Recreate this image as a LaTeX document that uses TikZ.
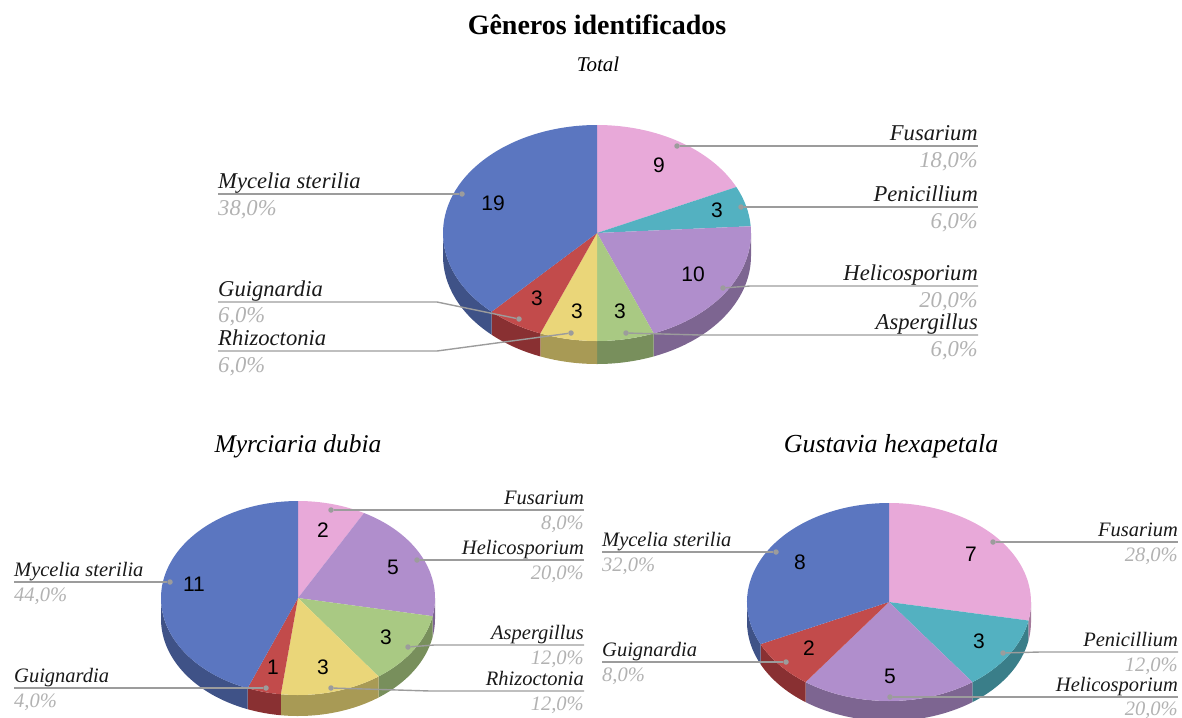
\documentclass[tikz,border=0pt]{standalone}
\usepackage{fontspec}
\setmainfont{Liberation Serif}
\newfontfamily\numfont{Liberation Sans}

\definecolor{cblue}{HTML}{5B76C0}
\definecolor{cblueS}{HTML}{3F5287}
\definecolor{cred}{HTML}{C24B4B}
\definecolor{credS}{HTML}{893032}
\definecolor{cyel}{HTML}{EAD679}
\definecolor{cyelS}{HTML}{A89A55}
\definecolor{cgrn}{HTML}{A9C983}
\definecolor{cgrnS}{HTML}{788F5C}
\definecolor{cpur}{HTML}{B08ECC}
\definecolor{cpurS}{HTML}{7D6591}
\definecolor{cteal}{HTML}{53B1C1}
\definecolor{ctealS}{HTML}{3A7E89}
\definecolor{cpink}{HTML}{E8A9D9}
\definecolor{cpinkS}{HTML}{A57B9C}
\definecolor{lgray}{HTML}{9C9C9C}
\definecolor{pgray}{HTML}{B2B2B2}

% one slice of a tilted pie: cx, cy, rx, ry, depth, from, to, colour
\newcommand{\pieslice}[8]{%
  \pgfmathsetmacro{\sa}{max(#6,0)}%
  \pgfmathsetmacro{\sb}{min(#7,180)}%
  \ifdim\sa pt<\sb pt
    \fill[#8S] (#1,#2) ++(\sa:#3 and #4) arc[start angle=\sa, end angle=\sb, x radius=#3, y radius=#4]
      -- ++(0,#5) arc[start angle=\sb, end angle=\sa, x radius=#3, y radius=#4] -- cycle;
  \fi
  \fill[#8] (#1,#2) -- ++(#6:#3 and #4) arc[start angle=#6, end angle=#7, x radius=#3, y radius=#4] -- cycle;
}

\begin{document}
\begin{tikzpicture}[x=1pt, y=1pt, yscale=-1,
    genus/.style={font=\fontsize{22.6}{24}\selectfont\itshape, inner sep=0pt, text=black!90},
    share/.style={genus, text=pgray},
    sgenus/.style={genus, font=\fontsize{20.5}{22}\selectfont\itshape},
    sshare/.style={sgenus, text=pgray},
    count/.style={font=\numfont\fontsize{21}{22}\selectfont, inner sep=0pt},
    leader/.style={draw=lgray, line width=1.4pt},
    ldot/.style={circle, fill=lgray, inner sep=0pt, minimum size=5.5pt}]
  \useasboundingbox (0,0) rectangle (1182,717);

  % titles
  \node[font=\fontsize{28}{30}\selectfont\bfseries, anchor=base] (ttl) at (597,35) {Gêneros identificados};
  \node[font=\fontsize{21}{22}\selectfont\itshape, anchor=base] (sub) at (598,71) {Total};
  \node[font=\fontsize{25.5}{28}\selectfont\itshape, anchor=base] (sub2) at (298,452) {Myrciaria dubia};
  \node[font=\fontsize{26}{28}\selectfont\itshape, anchor=base] (sub3) at (891,452) {Gustavia hexapetala};

  % total
  \pieslice{597}{233}{154}{108}{23}{-90}{-25.2}{cpink}
  \pieslice{597}{233}{154}{108}{23}{-25.2}{-3.6}{cteal}
  \pieslice{597}{233}{154}{108}{23}{-3.6}{68.4}{cpur}
  \pieslice{597}{233}{154}{108}{23}{68.4}{90}{cgrn}
  \pieslice{597}{233}{154}{108}{23}{90}{111.6}{cyel}
  \pieslice{597}{233}{154}{108}{23}{111.6}{133.2}{cred}
  \pieslice{597}{233}{154}{108}{23}{133.2}{270}{cblue}

  \node[count] (n1ms) at (493,203) {19};
  \node[count] (n1fu) at (659,165) {9};
  \node[count] (n1pe) at (717,210) {3};
  \node[count] (n1he) at (693,274) {10};
  \node[count] (n1as) at (620,311) {3};
  \node[count] (n1rh) at (577,311) {3};
  \node[count] (n1gu) at (537,298) {3};

  \node[genus, anchor=base west] (ms1) at (218,188) {Mycelia sterilia};
  \node[share, anchor=base west] (ms1p) at (218,215) {38,0\%};
  \node[ldot] (ms1d) at (462,194) {};
  \draw[leader] (ms1d) -- (ms1.west |- ms1d);

  \node[genus, anchor=base west] (gu1) at (218,296) {Guignardia};
  \node[share, anchor=base west] (gu1p) at (218,322) {6,0\%};
  \node[ldot] (gu1d) at (519,319) {};
  \draw[leader] (gu1d) -- (437,302) -- (gu1.west |- 437,302);

  \node[genus, anchor=base west] (rh1) at (218,345) {Rhizoctonia};
  \node[share, anchor=base west] (rh1p) at (218,372) {6,0\%};
  \node[ldot] (rh1d) at (571,333) {};
  \draw[leader] (rh1d) -- (437,351) -- (rh1.west |- 437,351);

  \node[genus, anchor=base east] (fu1) at (978,140) {Fusarium};
  \node[share, anchor=base east] (fu1p) at (978,167) {18,0\%};
  \node[ldot] (fu1d) at (677,146) {};
  \draw[leader] (fu1d) -- (fu1.east |- fu1d);

  \node[genus, anchor=base east] (pe1) at (978,201) {Penicillium};
  \node[share, anchor=base east] (pe1p) at (978,228) {6,0\%};
  \node[ldot] (pe1d) at (741,207) {};
  \draw[leader] (pe1d) -- (pe1.east |- pe1d);

  \node[genus, anchor=base east] (he1) at (978,280) {Helicosporium};
  \node[share, anchor=base east] (he1p) at (978,307) {20,0\%};
  \node[ldot] (he1d) at (723,288) {};
  \draw[leader] (he1d) -- (750,286) -- (he1.east |- 750,286);

  \node[genus, anchor=base east] (as1) at (978,329) {Aspergillus};
  \node[share, anchor=base east] (as1p) at (978,356) {6,0\%};
  \node[ldot] (as1d) at (626,333) {};
  \draw[leader] (as1d) -- (700,335) -- (as1.east |- 700,335);

  % Myrciaria dubia
  \pieslice{298}{598}{137}{97}{21}{-90}{-61.2}{cpink}
  \pieslice{298}{598}{137}{97}{21}{-61.2}{10.8}{cpur}
  \pieslice{298}{598}{137}{97}{21}{10.8}{54}{cgrn}
  \pieslice{298}{598}{137}{97}{21}{54}{97.2}{cyel}
  \pieslice{298}{598}{137}{97}{21}{97.2}{111.6}{cred}
  \pieslice{298}{598}{137}{97}{21}{111.6}{270}{cblue}

  \node[count] (n2fu) at (323,530) {2};
  \node[count] (n2he) at (393,567) {5};
  \node[count] (n2as) at (386,637) {3};
  \node[count] (n2rh) at (323,667) {3};
  \node[count] (n2gu) at (273,667) {1};
  \node[count] (n2ms) at (194,584) {11};

  \node[sgenus, anchor=base west] (ms2) at (14,576) {Mycelia sterilia};
  \node[sshare, anchor=base west] (ms2p) at (14,601) {44,0\%};
  \node[ldot] (ms2d) at (170,582) {};
  \draw[leader] (ms2d) -- (ms2.west |- ms2d);

  \node[sgenus, anchor=base west] (gu2) at (14,682) {Guignardia};
  \node[sshare, anchor=base west] (gu2p) at (14,707) {4,0\%};
  \node[ldot] (gu2d) at (266,688) {};
  \draw[leader] (gu2d) -- (gu2.west |- gu2d);

  \node[sgenus, anchor=base east] (fu2) at (584,504) {Fusarium};
  \node[sshare, anchor=base east] (fu2p) at (584,529) {8,0\%};
  \node[ldot] (fu2d) at (331,510) {};
  \draw[leader] (fu2d) -- (fu2.east |- fu2d);

  \node[sgenus, anchor=base east] (he2) at (584,554) {Helicosporium};
  \node[sshare, anchor=base east] (he2p) at (584,579) {20,0\%};
  \node[ldot] (he2d) at (417,560) {};
  \draw[leader] (he2d) -- (he2.east |- he2d);

  \node[sgenus, anchor=base east] (as2) at (584,639) {Aspergillus};
  \node[sshare, anchor=base east] (as2p) at (584,664) {12,0\%};
  \node[ldot] (as2d) at (408,647) {};
  \draw[leader] (as2d) -- (434,645) -- (as2.east |- 434,645);

  \node[sgenus, anchor=base east] (rh2) at (584,685) {Rhizoctonia};
  \node[sshare, anchor=base east] (rh2p) at (584,710) {12,0\%};
  \node[ldot] (rh2d) at (331,688) {};
  \draw[leader] (rh2d) -- (430,691) -- (rh2.east |- 430,691);

  % Gustavia hexapetala
  \pieslice{889}{602}{142}{99}{20}{-90}{10.8}{cpink}
  \pieslice{889}{602}{142}{99}{20}{10.8}{54}{cteal}
  \pieslice{889}{602}{142}{99}{20}{54}{126}{cpur}
  \pieslice{889}{602}{142}{99}{20}{126}{154.8}{cred}
  \pieslice{889}{602}{142}{99}{20}{154.8}{270}{cblue}

  \node[count] (n3ms) at (800,562) {8};
  \node[count] (n3fu) at (971,554) {7};
  \node[count] (n3pe) at (979,641) {3};
  \node[count] (n3he) at (890,676) {5};
  \node[count] (n3gu) at (809,648) {2};

  \node[sgenus, anchor=base west] (ms3) at (602,546) {Mycelia sterilia};
  \node[sshare, anchor=base west] (ms3p) at (602,571) {32,0\%};
  \node[ldot] (ms3d) at (776,552) {};
  \draw[leader] (ms3d) -- (ms3.west |- ms3d);

  \node[sgenus, anchor=base west] (gu3) at (602,656) {Guignardia};
  \node[sshare, anchor=base west] (gu3p) at (602,681) {8,0\%};
  \node[ldot] (gu3d) at (786,662) {};
  \draw[leader] (gu3d) -- (gu3.west |- gu3d);

  \node[sgenus, anchor=base east] (fu3) at (1178,536) {Fusarium};
  \node[sshare, anchor=base east] (fu3p) at (1178,561) {28,0\%};
  \node[ldot] (fu3d) at (993,542) {};
  \draw[leader] (fu3d) -- (fu3.east |- fu3d);

  \node[sgenus, anchor=base east] (pe3) at (1178,646) {Penicillium};
  \node[sshare, anchor=base east] (pe3p) at (1178,671) {12,0\%};
  \node[ldot] (pe3d) at (1003,653) {};
  \draw[leader] (pe3d) -- (1040,652) -- (pe3.east |- 1040,652);

  \node[sgenus, anchor=base east] (he3) at (1178,691) {Helicosporium};
  \node[sshare, anchor=base east] (he3p) at (1178,715) {20,0\%};
  \node[ldot] (he3d) at (890,697) {};
  \draw[leader] (he3d) -- (he3.east |- he3d);
\end{tikzpicture}
\end{document}
